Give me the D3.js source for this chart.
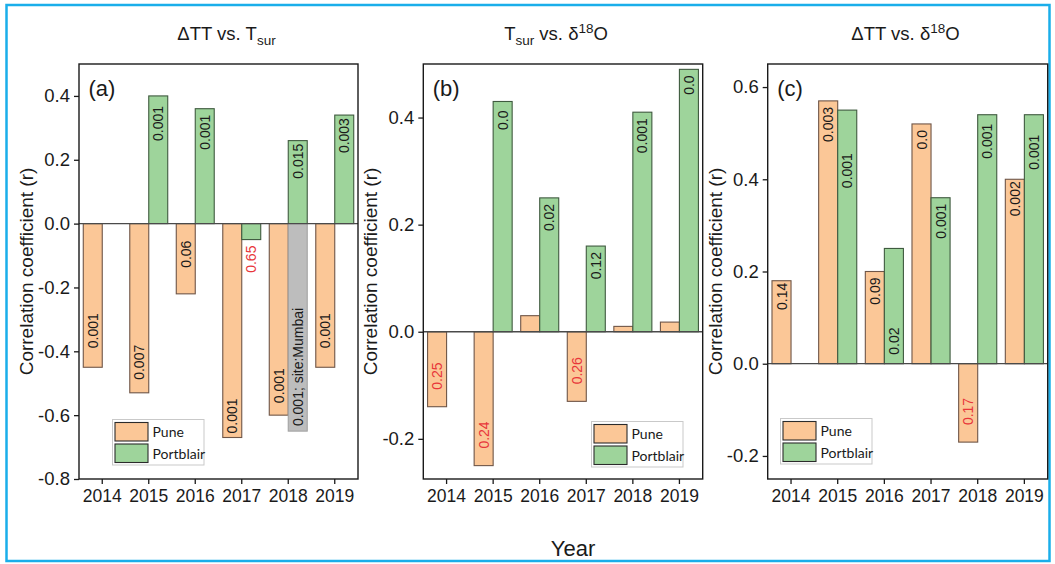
<!DOCTYPE html>
<html>
<head>
<meta charset="utf-8">
<script src="https://cdn.jsdelivr.net/npm/d3@7"></script>
<style>
  html, body { margin: 0; padding: 0; background: #fff; }
  svg { display: block; font-family: "Liberation Sans", Arial, sans-serif; }
</style>
</head>
<body>
<svg id="chart" width="1055" height="564"></svg>
<script>
// ---- data ---------------------------------------------------------------
const years = [2014, 2015, 2016, 2017, 2018, 2019];

// (a) ΔTT vs. Tsur
const ttTsurPune       = [-0.45, -0.53, -0.22, -0.67, -0.60, -0.45];
const ttTsurPortblair  = [null, 0.40, 0.36, -0.05, 0.26, 0.34];
const ttTsurMumbai     = [null, null, null, null, -0.65, null];
const ttTsurPunePval      = ["0.001", "0.007", "0.06", "0.001", "0.001", "0.001"];
const ttTsurPortblairPval = [null, "0.001", "0.001", "0.65", "0.015", "0.003"];
const ttTsurMumbaiPval    = [null, null, null, null, "0.001; site:Mumbai", null];

// (b) Tsur vs. δ18O
const tsurD18Pune      = [-0.14, -0.25, 0.03, -0.13, 0.01, 0.018];
const tsurD18Portblair = [null, 0.43, 0.25, 0.16, 0.41, 0.49];
const tsurD18PunePval      = ["0.25", "0.24", null, "0.26", null, null];
const tsurD18PortblairPval = [null, "0.0", "0.02", "0.12", "0.001", "0.0"];

// (c) ΔTT vs. δ18O
const ttD18Pune        = [0.18, 0.57, 0.20, 0.52, -0.17, 0.40];
const ttD18Portblair   = [null, 0.55, 0.25, 0.36, 0.54, 0.54];
const ttD18PunePval      = ["0.14", "0.003", "0.09", "0.0", "0.17", "0.002"];
const ttD18PortblairPval = [null, "0.001", "0.02", "0.001", "0.001", "0.001"];

const aTicks = [-0.8, -0.6, -0.4, -0.2, 0.0, 0.2, 0.4];
const bTicks = [-0.2, 0.0, 0.2, 0.4];
const cTicks = [-0.2, 0.0, 0.2, 0.4, 0.6];

// ---- styles -------------------------------------------------------------
const seriesStyle = {
  Pune:      { fill: "#fbc797", stroke: "#6f5648", slot: "Pune" },
  Portblair: { fill: "#9ed49b", stroke: "#3f5a3f", slot: "Portblair" },
  Mumbai:    { fill: "#bdbdbd", stroke: "#a3a3a3", slot: "Portblair" }
};
const redText = "#e8363a";

const svg = d3.select("#chart");

// outer frame
svg.append("rect")
  .attr("x", 6.5).attr("y", 5).attr("width", 1043).attr("height", 556)
  .attr("fill", "none").attr("stroke", "#1aaeea").attr("stroke-width", 2.5);

const TOP = 64, BOTTOM = 479;

const panels = [
  {
    id: "a", left: 79, right: 358, domain: [-0.8, 0.5], ticks: aTicks,
    title: [["ΔTT vs. T", 0], ["sur", 1]], titleX: 226.5,
    series: [
      { name: "Pune", values: ttTsurPune, pvals: ttTsurPunePval },
      { name: "Portblair", values: ttTsurPortblair, pvals: ttTsurPortblairPval },
      { name: "Mumbai", values: ttTsurMumbai, pvals: ttTsurMumbaiPval }
    ],
    legend: [112.5, 419.5]
  },
  {
    id: "b", left: 423.3, right: 702.7, domain: [-0.275, 0.5], ticks: bTicks,
    title: [["T", 0], ["sur", 1], [" vs. δ", 0], ["18", 2], ["O", 0]], titleX: 556,
    series: [
      { name: "Pune", values: tsurD18Pune, pvals: tsurD18PunePval },
      { name: "Portblair", values: tsurD18Portblair, pvals: tsurD18PortblairPval }
    ],
    legend: [591.5, 421.5]
  },
  {
    id: "c", left: 767.7, right: 1047.7, domain: [-0.25, 0.65], ticks: cTicks,
    title: [["ΔTT vs. δ", 0], ["18", 2], ["O", 0]], titleX: 905.5,
    series: [
      { name: "Pune", values: ttD18Pune, pvals: ttD18PunePval },
      { name: "Portblair", values: ttD18Portblair, pvals: ttD18PortblairPval }
    ],
    legend: [780.5, 418.5]
  }
];

// distance (px) between a bar's end and its p-value label
const GAP_POS = 6, GAP_NEG = 17, GAP_OUT = 6;
const labelGap = {
  "a|Pune|2014": 19, "a|Pune|2015": 13, "a|Pune|2016": 26, "a|Pune|2017": 4,
  "a|Pune|2018": 12, "a|Pune|2019": 19, "a|Mumbai|2018": 5,
  "a|Portblair|2015": 10, "a|Portblair|2018": 3, "a|Portblair|2019": 3,
  "b|Portblair|2015": 9,
  "c|Pune|2014": 2, "c|Pune|2019": 2, "c|Portblair|2015": 43,
  "c|Portblair|2016": 79, "c|Portblair|2018": 9, "c|Portblair|2019": 20
};

const fmt = v => d3.format(".1f")(v).replace("\u2212", "-");

panels.forEach(p => {
  const g = svg.append("g");
  const x = d3.scaleBand().domain(years).range([p.left, p.right]).padding(0);
  const slot = d3.scaleBand().domain(["Pune", "Portblair"])
    .range([0, x.bandwidth()]).paddingInner(0).paddingOuter(0.225);
  const y = d3.scaleLinear().domain(p.domain).range([BOTTOM, TOP]);

  // bars
  p.series.forEach(s => {
    const st = seriesStyle[s.name];
    const rows = years.map((yr, i) => ({ yr, v: s.values[i], pv: s.pvals[i] }))
      .filter(d => d.v !== null);
    g.selectAll(null).data(rows).enter().append("rect")
      .attr("x", d => x(d.yr) + slot(st.slot))
      .attr("width", slot.bandwidth())
      .attr("y", d => y(Math.max(0, d.v)))
      .attr("height", d => Math.abs(y(d.v) - y(0)))
      .attr("fill", st.fill)
      .attr("stroke", st.stroke)
      .attr("stroke-width", 1.1);
  });

  // zero line
  g.append("line")
    .attr("x1", p.left).attr("x2", p.right)
    .attr("y1", y(0)).attr("y2", y(0))
    .attr("stroke", "#4a4a4a").attr("stroke-width", 1.3);

  // p-value labels
  p.series.forEach(s => {
    const st = seriesStyle[s.name];
    years.forEach((yr, i) => {
      const v = s.values[i], pv = s.pvals[i];
      if (v === null || pv === null) return;
      const cx = x(yr) + slot(st.slot) + slot.bandwidth() / 2;
      const key = p.id + "|" + s.name + "|" + yr;
      const t = g.append("text")
        .attr("font-size", 14)
        .attr("dy", "0.36em")
        .attr("fill", parseFloat(pv) > 0.15 ? redText : "#1a1a1a")
        .text(pv);
      const len = t.node().getComputedTextLength();
      const barLen = Math.abs(y(v) - y(0));
      let ay, anchor;
      if (v >= 0) {
        const gap = labelGap[key] ?? GAP_POS;
        ay = y(v) + gap; anchor = "end";
      } else if (barLen < len + 8) {
        ay = y(v) + GAP_OUT; anchor = "end";
      } else {
        const gap = labelGap[key] ?? GAP_NEG;
        ay = y(v) - gap; anchor = "start";
      }
      t.attr("text-anchor", anchor)
        .attr("transform", `translate(${cx},${ay}) rotate(-90)`);
    });
  });

  // frame
  g.append("rect")
    .attr("x", p.left).attr("y", TOP)
    .attr("width", p.right - p.left).attr("height", BOTTOM - TOP)
    .attr("fill", "none").attr("stroke", "#1a1a1a").attr("stroke-width", 1.4);

  // axes
  const yAxis = d3.axisLeft(y).tickValues(p.ticks).tickFormat(fmt)
    .tickSize(5).tickPadding(4);
  const ya = g.append("g").attr("transform", `translate(${p.left},0)`).call(yAxis);
  ya.select(".domain").remove();
  ya.selectAll("text").attr("font-size", 18.5).attr("fill", "#1a1a1a")
    .attr("font-family", "Liberation Sans, Arial, sans-serif");
  ya.selectAll("line").attr("stroke", "#1a1a1a").attr("stroke-width", 1.3);

  const xAxis = d3.axisBottom(x).tickSize(5).tickPadding(6);
  const xa = g.append("g").attr("transform", `translate(0,${BOTTOM})`).call(xAxis);
  xa.select(".domain").remove();
  xa.selectAll("text").attr("font-size", 17.5).attr("fill", "#1a1a1a")
    .attr("font-family", "Liberation Sans, Arial, sans-serif");
  xa.selectAll("line").attr("stroke", "#1a1a1a").attr("stroke-width", 1.3);

  // y-axis title
  g.append("text")
    .attr("transform", `translate(${p.left - 46},${(TOP + BOTTOM) / 2}) rotate(-90)`)
    .attr("text-anchor", "middle")
    .attr("font-size", 19).attr("fill", "#1a1a1a")
    .text("Correlation coefficient (r)");

  // panel tag
  g.append("text")
    .attr("x", p.left + 9.5).attr("y", TOP + 32)
    .attr("font-size", 22).attr("fill", "#1a1a1a")
    .text("(" + p.id + ")");

  // panel title with sub/superscripts
  const title = g.append("text")
    .attr("x", p.titleX).attr("y", 40)
    .attr("text-anchor", "middle")
    .attr("font-size", 18.5).attr("fill", "#1a1a1a");
  let shift = 0;
  p.title.forEach(([txt, kind]) => {
    const target = kind === 1 ? 5 : kind === 2 ? -7 : 0;
    title.append("tspan")
      .attr("dy", target - shift)
      .attr("font-size", kind === 0 ? 18.5 : 13.5)
      .text(txt);
    shift = target;
  });

  // legend
  const [lx, ly] = p.legend;
  const lg = g.append("g").attr("transform", `translate(${lx},${ly})`);
  lg.append("rect").attr("width", 91.5).attr("height", 45.5)
    .attr("fill", "#fff").attr("stroke", "#c9c9c9").attr("stroke-width", 1);
  ["Pune", "Portblair"].forEach((name, i) => {
    const st = seriesStyle[name];
    lg.append("rect")
      .attr("x", 2.5).attr("y", 3 + i * 21.5).attr("width", 33).attr("height", 18.5)
      .attr("fill", st.fill).attr("stroke", "#2b2b2b").attr("stroke-width", 1.1);
    lg.append("text")
      .attr("x", 40).attr("y", 3 + i * 21.5 + 14.5)
      .attr("font-family", "Lato, sans-serif")
      .attr("font-size", 14).attr("fill", "#1a1a1a")
      .text(name);
  });
});

// shared x-axis title
svg.append("text")
  .attr("x", 573).attr("y", 556)
  .attr("text-anchor", "middle")
  .attr("font-size", 22).attr("fill", "#1a1a1a")
  .text("Year");
</script>
</body>
</html>
